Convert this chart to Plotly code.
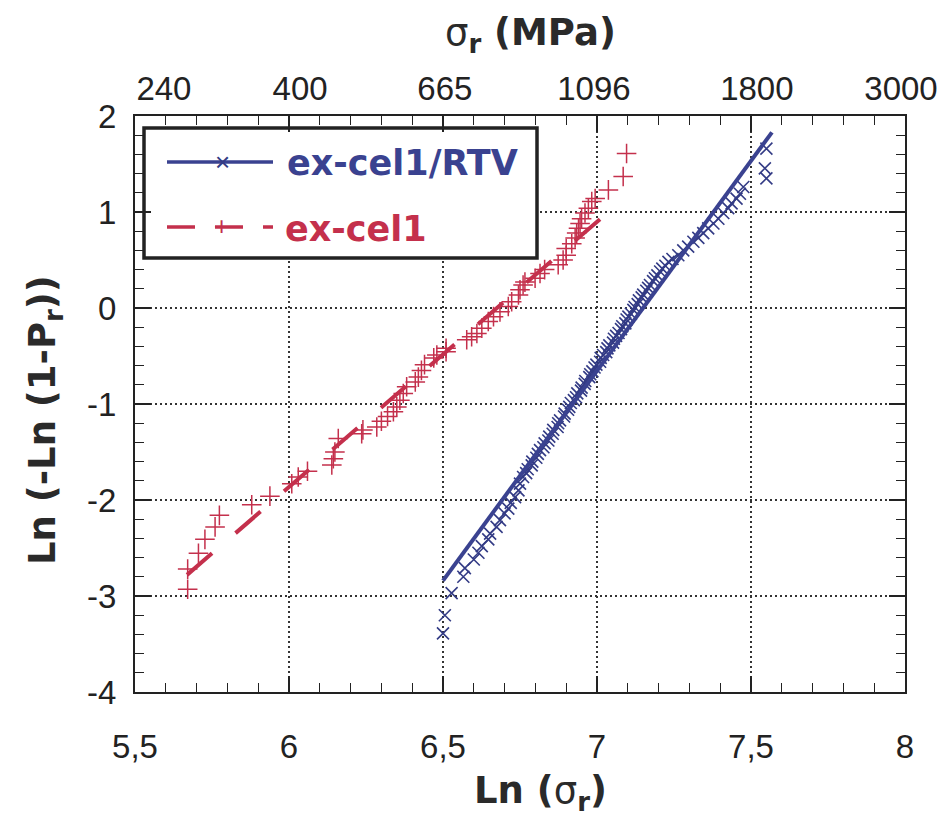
import plotly.graph_objects as go

# ---------------- data ----------------
# ex-cel1/RTV : Weibull points (ln sigma, ln(-ln(1-P)))
rtv_ln_sigma = [6.500, 6.506, 6.528, 6.566, 6.571, 6.600, 6.615, 6.626, 6.647, 6.653,
                6.674, 6.685, 6.700, 6.712, 6.720, 6.734, 6.745, 6.750, 6.760,
                6.770, 6.775, 6.788, 6.790, 6.803, 6.808, 6.815, 6.826, 6.830, 6.842,
                6.845, 6.856, 6.858, 6.872, 6.874, 6.880, 6.893, 6.895, 6.906, 6.910,
                6.915, 6.925, 6.932, 6.936, 6.948, 6.950, 6.960, 6.962, 6.975, 6.978,
                6.985, 6.992, 6.998, 7.010, 7.012, 7.020, 7.030, 7.034, 7.040, 7.052,
                7.055, 7.062, 7.070, 7.078, 7.082, 7.092, 7.096, 7.102, 7.110, 7.118,
                7.122, 7.132, 7.136, 7.145, 7.150, 7.160, 7.166, 7.172, 7.182, 7.188,
                7.196, 7.205, 7.212, 7.222, 7.232, 7.245,
                7.264, 7.280, 7.296, 7.313, 7.329, 7.345, 7.361, 7.378, 7.394, 7.410,
                7.426, 7.437, 7.453, 7.464, 7.475, 7.550, 7.545, 7.550]
rtv_weibull = [-3.39, -3.20, -2.97, -2.80, -2.71, -2.62, -2.55, -2.48, -2.41, -2.35,
               -2.28, -2.21, -2.14, -2.09, -2.03, -1.97, -1.90, -1.83, -1.76,
               -1.72, -1.68, -1.64, -1.60, -1.56, -1.52, -1.48, -1.45, -1.41, -1.38,
               -1.34, -1.31, -1.27, -1.24, -1.20, -1.17, -1.13, -1.10, -1.06, -1.03,
               -0.99, -0.96, -0.93, -0.89, -0.86, -0.83, -0.79, -0.76, -0.72, -0.69,
               -0.66, -0.62, -0.59, -0.56, -0.52, -0.49, -0.46, -0.42, -0.39, -0.36,
               -0.32, -0.29, -0.26, -0.22, -0.19, -0.16, -0.12, -0.09, -0.06, -0.02,
               0.01, 0.04, 0.08, 0.11, 0.14, 0.18, 0.21, 0.24, 0.28, 0.31,
               0.34, 0.38, 0.41, 0.44, 0.48, 0.51,
               0.55, 0.60, 0.64, 0.69, 0.73, 0.78, 0.83, 0.88, 0.93, 0.99,
               1.04, 1.09, 1.14, 1.19, 1.26, 1.35, 1.455, 1.66]
rtv_fit_x = [6.500, 7.568]
rtv_fit_y = [-2.84, 1.83]

# ex-cel1 : Weibull points
cel_ln_sigma = [5.671, 5.671, 5.706, 5.727, 5.760, 5.774, 5.879, 5.938, 6.009, 6.030,
                6.060, 6.139, 6.144, 6.149, 6.160, 6.236, 6.240, 6.285, 6.300, 6.320,
                6.339, 6.350, 6.360, 6.371, 6.382, 6.410, 6.420, 6.430, 6.440, 6.470,
                6.480, 6.510, 6.510, 6.577, 6.593, 6.610, 6.626, 6.647, 6.664, 6.685,
                6.712, 6.723, 6.745, 6.750, 6.760, 6.766, 6.799, 6.815, 6.830, 6.874,
                6.890, 6.900, 6.900, 6.918, 6.929, 6.934, 6.940, 6.945, 6.950, 6.961,
                6.972, 6.983, 6.994, 7.037, 7.085, 7.096]
cel_weibull = [-2.93, -2.72, -2.555, -2.41, -2.28, -2.16, -2.05, -1.96, -1.83, -1.76,
               -1.70, -1.635, -1.57, -1.50, -1.36, -1.31, -1.27, -1.24, -1.18, -1.13,
               -1.08, -1.03, -0.96, -0.89, -0.82, -0.77, -0.72, -0.65, -0.59, -0.52,
               -0.49, -0.455, -0.42, -0.33, -0.30, -0.265, -0.21, -0.14, -0.09, -0.04,
               0.015, 0.065, 0.135, 0.19, 0.24, 0.27, 0.31, 0.36, 0.40, 0.45,
               0.50, 0.55, 0.62, 0.67, 0.73, 0.78, 0.83, 0.88, 0.93, 0.99,
               1.04, 1.11, 1.14, 1.23, 1.37, 1.61]
cel_fit_x = [5.669, 7.026]
cel_fit_y = [-2.78, 0.97]

x_ticks = [5.5, 6, 6.5, 7, 7.5, 8]
x_tick_labels = ["5,5", "6", "6,5", "7", "7,5", "8"]
y_ticks = [-4, -3, -2, -1, 0, 1, 2]
y_tick_labels = ["-4", "-3", "-2", "-1", "0", "1", "2"]
top_tick_labels = ["240", "400", "665", "1096", "1800", "3000"]
top_tick_pos = [5.594, 6.036, 6.506, 6.990, 7.519, 7.987]

series_names = ["ex-cel1/RTV", "ex-cel1"]

# ---------------- styling ----------------
BLUE = "#3a4290"
BLUE_M = "#333b85"
RED = "#c4304c"
OFF = 8                      # page margin of the browser body
W, H = 945 - OFF, 823 - OFF
L, T = 135 - OFF, 116 - OFF
PW, PH = 770, 576
R = W - L - PW
B = H - T - PH
XR = [5.5, 8.0]
YR = [-4.0, 2.0]


def xp(px):  # screen pixel -> paper
    return (px - OFF - L) / PW


def yp(py):
    return (T + PH - (py - OFF)) / PH


def xd(px):  # screen pixel -> data
    return XR[0] + (px - OFF - L) / PW * (XR[1] - XR[0])


def yd(py):
    return YR[1] - (py - OFF - T) / PH * (YR[1] - YR[0])


fig = go.Figure()

fig.add_trace(go.Scatter(x=cel_fit_x, y=cel_fit_y, mode="lines",
                         line=dict(color=RED, width=4, dash="33px,31px"),
                         showlegend=False, hoverinfo="skip"))
fig.add_trace(go.Scatter(x=cel_ln_sigma, y=cel_weibull, mode="markers", name=series_names[1],
                         marker=dict(symbol="cross-thin-open", size=14, color=RED,
                                     line=dict(color=RED, width=1.5)),
                         showlegend=False))
fig.add_trace(go.Scatter(x=rtv_ln_sigma, y=rtv_weibull, mode="markers", name=series_names[0],
                         marker=dict(symbol="x-thin-open", size=12, color=BLUE_M,
                                     line=dict(color=BLUE_M, width=1.6)),
                         showlegend=False))
fig.add_trace(go.Scatter(x=rtv_fit_x, y=rtv_fit_y, mode="lines",
                         line=dict(color=BLUE, width=4),
                         showlegend=False, hoverinfo="skip"))
# dummy trace to activate top axis
fig.add_trace(go.Scatter(x=[None], y=[None], xaxis="x2", showlegend=False))

tickfont = dict(family="Liberation Sans, Arial, sans-serif", size=33, color="#222")

fig.update_layout(
    width=W, height=H,
    margin=dict(l=L, r=R, t=T, b=B, autoexpand=False),
    paper_bgcolor="white", plot_bgcolor="white",
    showlegend=False,
    xaxis=dict(range=XR, tickvals=x_ticks, ticktext=x_tick_labels,
               ticks="inside", ticklen=16, tickwidth=1.5, tickcolor="#222",
               minor=dict(dtick=0.1, ticks="inside", ticklen=9, tickwidth=1.2,
                          tickcolor="#222", showgrid=False),
               showline=True, linecolor="#222", linewidth=2, mirror="ticks",
               showgrid=True, gridcolor="#333", gridwidth=1.5, griddash="2px,3px",
               zeroline=False, tickfont=tickfont, ticklabelstandoff=24),
    xaxis2=dict(range=XR, overlaying="x", side="top", tickvals=top_tick_pos,
                ticktext=top_tick_labels, ticks="", showgrid=False, showline=False,
                zeroline=False, tickfont=tickfont, ticklabelstandoff=8),
    yaxis=dict(range=YR, tickvals=y_ticks, ticktext=y_tick_labels,
               ticks="inside", ticklen=16, tickwidth=1.5, tickcolor="#222",
               minor=dict(dtick=0.2, ticks="inside", ticklen=9, tickwidth=1.2,
                          tickcolor="#222", showgrid=False),
               showline=True, linecolor="#222", linewidth=2, mirror="ticks",
               showgrid=True, gridcolor="#333", gridwidth=1.5, griddash="2px,3px",
               zeroline=False, tickfont=tickfont, ticklabelstandoff=10),
)

# legend (drawn manually)
shapes = [
    dict(type="rect", xref="x", yref="y", x0=xd(144), x1=xd(537), y0=yd(258), y1=yd(128),
         line=dict(color="#222", width=3.5), fillcolor="white", layer="between"),
    dict(type="line", xref="x", yref="y", x0=xd(167), x1=xd(273), y0=yd(162), y1=yd(162),
         line=dict(color=BLUE, width=3.5), layer="between"),
    dict(type="line", xref="x", yref="y", x0=xd(167), x1=xd(273), y0=yd(227), y1=yd(227),
         line=dict(color=RED, width=3.5, dash="28px,20px"), layer="between"),
]
fig.update_layout(shapes=shapes)

legfont = "DejaVu Sans, sans-serif"
titlefont = dict(family="DejaVu Sans, sans-serif", size=37, color="#2a2a2a")
annotations = [
    dict(text="×", xref="paper", yref="paper", x=xp(222), y=yp(162), showarrow=False,
         font=dict(family="Liberation Sans", size=26, color=BLUE_M), xanchor="center", yanchor="middle"),
    dict(text="+", xref="paper", yref="paper", x=xp(221), y=yp(226), showarrow=False,
         font=dict(family="Liberation Sans", size=26, color=RED), xanchor="center", yanchor="middle"),
    dict(text="<b>" + series_names[0] + "</b>", xref="paper", yref="paper", x=xp(285), y=yp(163),
         showarrow=False, xanchor="left", yanchor="middle",
         font=dict(family=legfont, size=35, color=BLUE)),
    dict(text="<b>" + series_names[1] + "</b>", xref="paper", yref="paper", x=xp(283), y=yp(229),
         showarrow=False, xanchor="left", yanchor="middle",
         font=dict(family=legfont, size=35, color=RED)),
    # axis titles
    dict(text="<b>Ln (</b>σ<sub><b>r</b></sub><b>)</b>", xref="paper", yref="paper",
         x=xp(540), y=yp(793), showarrow=False, xanchor="center", yanchor="middle",
         font=titlefont),
    dict(text="σ<sub><b>r</b></sub><b> (MPa)</b>", xref="paper", yref="paper",
         x=xp(530), y=yp(35), showarrow=False, xanchor="center", yanchor="middle",
         font=titlefont),
    dict(text="<b>Ln (-Ln (1-P<sub>r</sub>))</b>", xref="paper", yref="paper",
         x=xp(45), y=yp(420), showarrow=False, xanchor="center", yanchor="middle",
         textangle=-90, font=titlefont),
]
fig.update_layout(annotations=annotations)

fig.write_html("out.html")
